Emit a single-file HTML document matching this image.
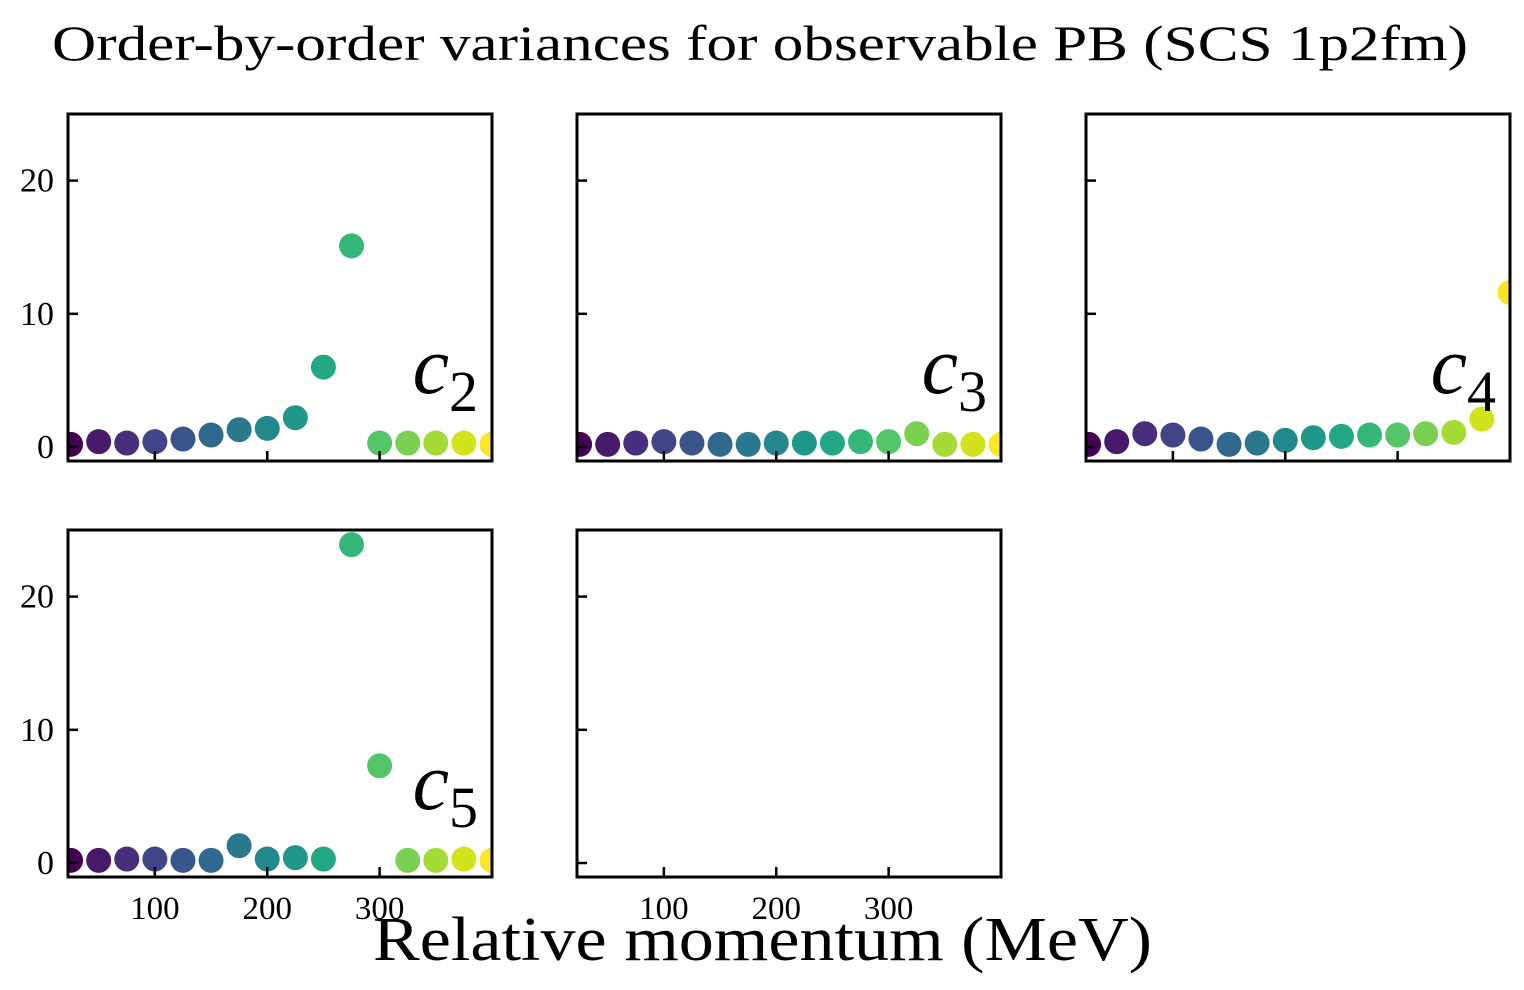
<!DOCTYPE html>
<html><head><meta charset="utf-8">
<style>
html,body{margin:0;padding:0;background:#fff;}
svg{display:block;font-family:"Liberation Serif",serif;}
</style></head>
<body>
<svg id="chart" width="1524" height="990" viewBox="0 0 1524 990" xmlns="http://www.w3.org/2000/svg">
<text x="52" y="60" font-size="50" textLength="1416" lengthAdjust="spacingAndGlyphs">Order-by-order variances for observable PB (SCS 1p2fm)</text>
<text x="373" y="960" font-size="62" textLength="779" lengthAdjust="spacingAndGlyphs">Relative momentum (MeV)</text>
</svg>
<script>
const momenta = [25,50,75,100,125,150,175,200,225,250,275,300,325,350,375,400];
const c2 = [0.2,0.4,0.3,0.4,0.6,0.9,1.3,1.4,2.2,6.0,15.1,0.3,0.3,0.3,0.3,0.2];
const c3 = [0.2,0.2,0.3,0.4,0.3,0.2,0.2,0.3,0.3,0.3,0.4,0.4,1.0,0.2,0.2,0.2];
const c4 = [0.2,0.4,1.0,0.9,0.6,0.2,0.3,0.5,0.7,0.8,0.9,0.9,1.0,1.1,2.1,11.6];
const c5 = [0.2,0.2,0.3,0.3,0.2,0.2,1.3,0.3,0.4,0.3,23.9,7.3,0.2,0.2,0.3,0.2];
const yTicks = [0,10,20];
const xTicks = [100,200,300];
const viridis = ["#440154","#481a6c","#472f7d","#414487","#39568c","#31688e","#2a788e","#23888e","#1f988b","#22a884","#35b779","#54c568","#7ad151","#a5db36","#d2e21b","#fde725"];

const svg = document.getElementById('chart');
const NS = 'http://www.w3.org/2000/svg';
const X0=22.7, X1=400, Y0=-1.05, Y1=25;
const panels = [
 {name:'c2', sub:'2', data:c2, x:68, y:114, ylab:true, xlab:false},
 {name:'c3', sub:'3', data:c3, x:577, y:114, ylab:false, xlab:false},
 {name:'c4', sub:'4', data:c4, x:1086, y:114, ylab:false, xlab:false},
 {name:'c5', sub:'5', data:c5, x:68, y:530, ylab:true, xlab:true},
 {name:'empty', sub:null, data:null, x:577, y:530, ylab:false, xlab:true}
];
const W=424, H=347;
function mk(tag, attrs, parent){const e=document.createElementNS(NS,tag);for(const k in attrs)e.setAttribute(k,attrs[k]);(parent||svg).appendChild(e);return e;}
panels.forEach((p,pi)=>{
  const g = mk('g',{});
  
  
  const sx = v => p.x + (v-X0)/(X1-X0)*W;
  const sy = v => p.y + H - (v-Y0)/(Y1-Y0)*H;
  const cid='clip'+pi;
  const cp = mk('clipPath',{id:cid},g);
  mk('rect',{x:p.x,y:p.y,width:W,height:H},cp);
  if(p.data){
    const pg = mk('g',{'clip-path':'url(#'+cid+')'},g);
    p.data.forEach((v,i)=>{
      const c = mk('circle',{cx:sx(momenta[i]),cy:sy(v),r:12.5,fill:viridis[i]},pg);
      
      
    });
  }
  yTicks.forEach(t=>{
    const l = mk('line',{x1:p.x,x2:p.x+10,y1:sy(t),y2:sy(t),stroke:'#000','stroke-width':2.5},g);
    
    
    if(p.ylab){
      const tx = mk('text',{x:p.x-14,y:sy(t)+11,'font-size':34,'text-anchor':'end'},g);
      
      
      tx.textContent=t;
    }
  });
  xTicks.forEach(t=>{
    const l = mk('line',{x1:sx(t),x2:sx(t),y1:p.y+H,y2:p.y+H-10,stroke:'#000','stroke-width':2.5},g);
    
    
    if(p.xlab){
      const tx = mk('text',{x:sx(t),y:p.y+H+42,'font-size':33,'text-anchor':'middle'},g);
      
      
      tx.textContent=t;
    }
  });
  const fr = mk('rect',{x:p.x,y:p.y,width:W,height:H,fill:'none',stroke:'#000','stroke-width':3},g);
  
  
  if(p.sub){
    const lab = mk('text',{x:p.x+W-14,y:p.y+H-68,'font-size':82,'font-style':'italic','text-anchor':'end'},g);
    
    
    lab.innerHTML = 'c<tspan font-style="normal" font-size="58" dy="18">'+p.sub+'</tspan>';
  }
});
</script>
</body></html>
